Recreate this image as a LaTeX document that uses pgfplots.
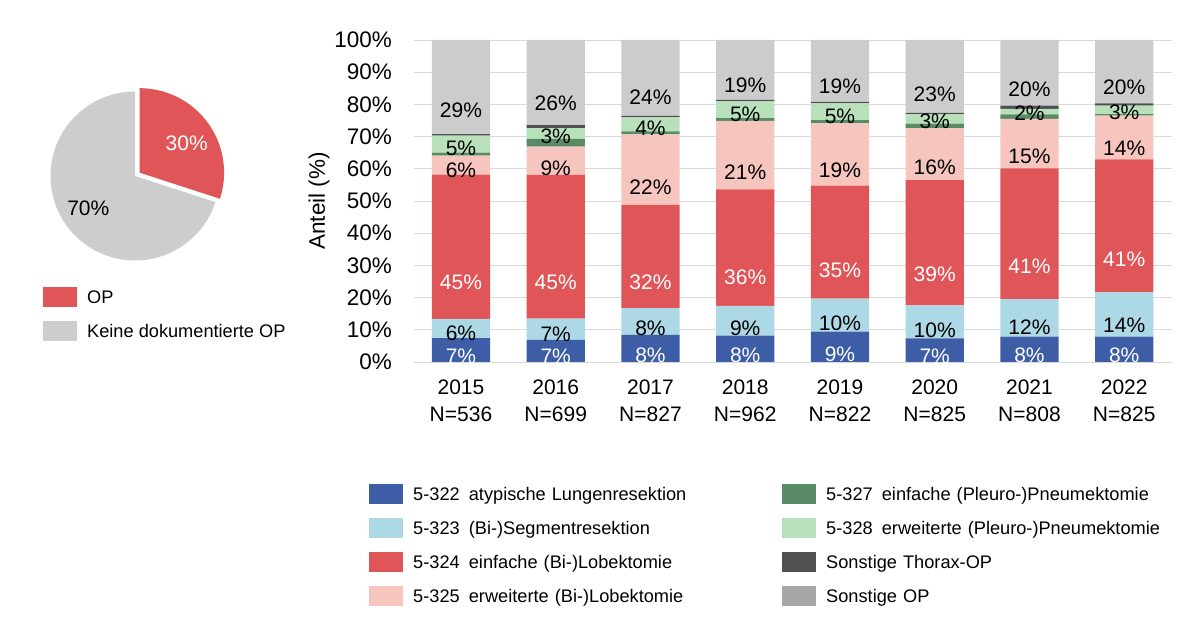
\documentclass[border=0pt]{standalone}
\usepackage{pgfplots}
\usepackage{pgfplotstable}
\pgfplotsset{compat=1.18}
\usepackage{fontspec}
\setmainfont{Liberation Sans}

\definecolor{cblue}{HTML}{3D5DA6}
\definecolor{clblue}{HTML}{ADD8E6}
\definecolor{cred}{HTML}{E05558}
\definecolor{cpink}{HTML}{F6C5BE}
\definecolor{cdgreen}{HTML}{5A8B67}
\definecolor{clgreen}{HTML}{B8E1BB}
\definecolor{cdgray}{HTML}{505050}
\definecolor{cgray}{HTML}{CCCCCC}
\definecolor{clegray}{HTML}{A6A6A6}
\definecolor{cgrid}{HTML}{D9D9D9}
\definecolor{piegray}{HTML}{CDCDCD}

\pgfplotsset{
  sqlegend/.style={legend image code/.code={\fill[##1] (0pt,-10pt) rectangle (34pt,10pt);}},
}

% shares (%) per year, bottom to top
\pgfplotstableread{
x b1 b2 b3 b4 b5 b6 b7 b8
0 7.4 6.0 44.8 5.9 0.9 5.3 0.5 29.2
1 6.9 6.6 44.6 8.8 2.4 3.3 1.0 26.4
2 8.4 8.3 32.1 21.9 0.9 4.4 0.4 23.6
3 8.2 9.2 36.2 21.3 0.8 5.2 0.5 18.6
4 9.4 10.3 35.1 19.3 1.0 5.2 0.5 19.2
5 7.3 10.3 38.9 16.1 1.4 2.9 0.5 22.6
6 7.9 11.6 40.6 15.4 1.4 1.7 1.0 20.4
7 7.9 13.7 41.3 13.6 0.5 2.6 0.7 19.7
}\bardata

\newcommand\segment[4][]{%
  \addplot[fill=#3, draw=none, sqlegend, #1,
    point meta=\thisrow{#2},
    visualization depends on={\thisrow{#2} \as \rawy},
    nodes near coords={\pgfmathprintnumber[fixed,precision=0]{\pgfplotspointmeta}\%},
    nodes near coords align={center},
    every node near coord/.append style={text=#4, anchor=center, yshift=-0.805pt*\rawy,
      font=\fontsize{21}{23}\selectfont, inner sep=0pt}]
    table[x=x, y=#2] {\bardata};
}
\newcommand\segmentnl[2]{%
  \addplot[fill=#2, draw=none, sqlegend] table[x=x, y=#1] {\bardata};
}

\def\opshare{30}
\pgfmathsetmacro{\opend}{90-3.6*\opshare}
\pgfmathsetmacro{\opmid}{90-1.8*\opshare}

\begin{document}
\begin{tikzpicture}
\useasboundingbox (0,0) rectangle (1200pt,639pt);

% ---------- pie ----------
\begin{axis}[at={(35pt,363pt)}, anchor=south west, scale only axis,
  width=200pt, height=200pt, xmin=-100, xmax=100, ymin=-100, ymax=100,
  hide axis, clip=false, sqlegend,
  legend cell align=left,
  legend style={at={(0.04,-0.0535)}, anchor=north west, draw=none, fill=none,
    inner sep=0pt, row sep=14pt, column sep=10pt,
    font=\fontsize{18.2}{20}\selectfont,
    nodes={text height=16pt, text depth=3pt, inner sep=0pt}}]
\addlegendimage{fill=cred, draw=none}
\addlegendentry{OP}
\addlegendimage{fill=piegray, draw=none}
\addlegendentry{Keine dokumentierte OP}
\fill[piegray] (axis cs:0,0) -- (axis cs:0,84.5) arc[start angle=90, end angle=\opend+360, radius=84.5pt] -- cycle;
\fill[cred] ([shift={(\opmid:5.7pt)}]axis cs:0,0) -- ++(90:84.5pt) arc[start angle=90, end angle=\opend, radius=84.5pt] -- cycle;
\node[text=white, font=\fontsize{21}{23}\selectfont] at (axis cs:51.7,32.7) {30\%};
\node[text=black, font=\fontsize{21}{23}\selectfont] at (axis cs:-46.7,-32.3) {70\%};
\end{axis}

% ---------- stacked bars ----------
\begin{axis}[at={(413.6pt,277pt)}, anchor=south west, scale only axis,
  width=758pt, height=322pt,
  ybar stacked, bar width=0.615,
  xmin=-0.5, xmax=7.5, ymin=0, ymax=100,
  xtick={0,...,7},
  xticklabels={{2015\\N=536},{2016\\N=699},{2017\\N=827},{2018\\N=962},{2019\\N=822},{2020\\N=825},{2021\\N=808},{2022\\N=825}},
  ytick={0,10,...,100},
  yticklabel={\pgfmathprintnumber[fixed,precision=0]{\tick}\%},
  /pgf/number format/assume math mode=true,
  ymajorgrids, major grid style={draw=cgrid, line width=0.9pt},
  axis line style={draw=none}, major tick style={draw=none},
  yticklabel style={font=\fontsize{22.5}{26}\selectfont, inner sep=0pt, anchor=east, xshift=-21.6pt},
  xticklabel style={font=\fontsize{21}{27}\selectfont, align=center, inner sep=0pt, anchor=north, yshift=-18pt},
  ylabel={Anteil (\%)},
  ylabel style={font=\fontsize{22.5}{26}\selectfont, at={(axis description cs:-0.1248,0.5)}, anchor=center, rotate=0},
  clip=false,
  legend columns=4, transpose legend,
  legend cell align=left,
  legend style={at={(-0.0588,-0.3789)}, anchor=north west, draw=none, fill=none,
    inner sep=0pt, row sep=14pt, column sep=10pt,
    font=\fontsize{18.2}{20}\selectfont,
    nodes={text width=359pt, text height=16pt, text depth=3pt, inner sep=0pt}},
]
\segment{b1}{cblue}{white}
\addlegendentry{5-322\enspace atypische Lungenresektion}
\segment{b2}{clblue}{black}
\addlegendentry{5-323\enspace (Bi-)Segmentresektion}
\segment{b3}{cred}{white}
\addlegendentry{5-324\enspace einfache (Bi-)Lobektomie}
\segment{b4}{cpink}{black}
\addlegendentry{5-325\enspace erweiterte (Bi-)Lobektomie}
\segmentnl{b5}{cdgreen}
\addlegendentry{5-327\enspace einfache (Pleuro-)Pneumektomie}
\segment{b6}{clgreen}{black}
\addlegendentry{5-328\enspace erweiterte (Pleuro-)Pneumektomie}
\segmentnl{b7}{cdgray}
\addlegendentry{Sonstige Thorax-OP}
\segment[legend image post style={fill=clegray}]{b8}{cgray}{black}
\addlegendentry{Sonstige OP}
\end{axis}
\end{tikzpicture}
\end{document}
